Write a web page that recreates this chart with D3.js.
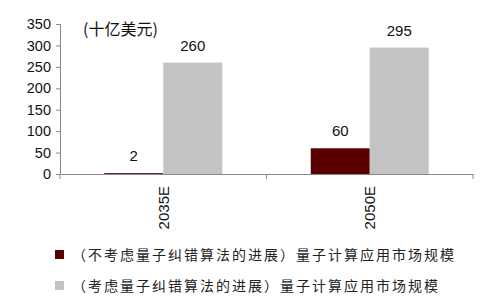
<!DOCTYPE html>
<html><head><meta charset="utf-8">
<script src="https://cdn.jsdelivr.net/npm/d3@7"></script>
<style>body{margin:0;background:#fff}svg{display:block}</style>
</head><body>
<svg id="c" width="499" height="307"></svg>
<script>
const categories = ["2035E", "2050E"];
const seriesNames = ["（不考虑量子纠错算法的进展）量子计算应用市场规模", "（考虑量子纠错算法的进展）量子计算应用市场规模"];
const seriesNoQEC = [2, 60];
const seriesQEC = [260, 295];
const yTicks = [0, 50, 100, 150, 200, 250, 300, 350];
const colors = ["#5a0000", "#c3c3c3"];
const unitLabel = "(十亿美元)";

(function () {
const svg = d3.select("#c");
const font = "'Liberation Sans', Arial, sans-serif";
const cjk = "'Noto Sans CJK SC', sans-serif";
const mL = 60, mR = 473, mT = 24, mB = 174;

const x = d3.scaleBand().domain(categories).range([mL, mR]).paddingInner(0).paddingOuter(0);
const xs = d3.scaleBand().domain([0, 1]).range([0, x.bandwidth()]).paddingOuter(0.75).paddingInner(0);
const y = d3.scaleLinear().domain([0, 350]).range([mB, mT]);

const series = [seriesNoQEC, seriesQEC];

series.forEach((vals, si) => {
  svg.append("g").selectAll("rect").data(vals).join("rect")
    .attr("x", (d, i) => x(categories[i]) + xs(si))
    .attr("width", xs.bandwidth())
    .attr("y", d => y(d))
    .attr("height", d => y(0) - y(d))
    .attr("fill", colors[si]);
  svg.append("g").selectAll("text").data(vals).join("text")
    .attr("x", (d, i) => x(categories[i]) + xs(si) + xs.bandwidth() / 2)
    .attr("y", d => y(d) - 12)
    .attr("text-anchor", "middle")
    .attr("font-family", font).attr("font-size", 15).attr("fill", "#111")
    .text(d => d);
});

const yAxis = svg.append("g").attr("transform", `translate(${mL},0)`)
  .call(d3.axisLeft(y).tickValues(yTicks).tickSize(4).tickPadding(5));
yAxis.select(".domain").attr("stroke", "#888");
yAxis.selectAll(".tick line").attr("stroke", "#888");
yAxis.selectAll("text").attr("font-family", font).attr("font-size", 14.5).attr("fill", "#111");

const xAxis = svg.append("g").attr("transform", `translate(0,${mB})`)
  .call(d3.axisBottom(x).tickSize(0).tickSizeOuter(0));
xAxis.select(".domain").attr("stroke", "#888");
xAxis.selectAll(".tick text")
  .attr("transform", "rotate(-90)")
  .attr("text-anchor", "end")
  .attr("dy", "0.35em")
  .attr("x", -12).attr("y", 0)
  .attr("font-family", font).attr("font-size", 15).attr("fill", "#111");
const bounds = [mL].concat(categories.map(c => x(c) + x.bandwidth()));
svg.append("g").selectAll("line").data(bounds).join("line")
  .attr("x1", d => d).attr("x2", d => d)
  .attr("y1", mB).attr("y2", mB + 5)
  .attr("stroke", "#888");

svg.append("text").attr("x", 83).attr("y", 35)
  .attr("font-family", cjk).attr("font-size", 16).attr("fill", "#111")
  .text(unitLabel);

const lg = svg.append("g");
seriesNames.forEach((name, i) => {
  const cy = 255 + i * 31;
  lg.append("rect").attr("x", 55).attr("y", cy - 5).attr("width", 9).attr("height", 9).attr("fill", colors[i]);
  lg.append("text").attr("x", 72).attr("y", cy).attr("dy", "0.35em")
    .attr("font-family", cjk).attr("font-size", 14).attr("letter-spacing", 2).attr("fill", "#222")
    .text(name);
});
})();
</script>
</body></html>
